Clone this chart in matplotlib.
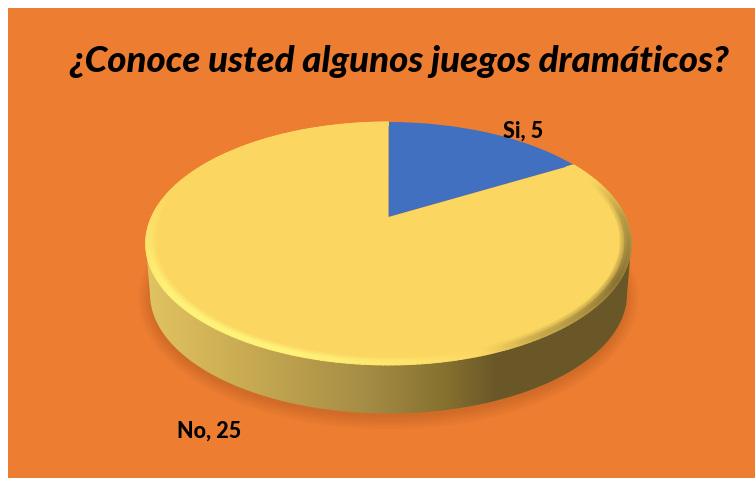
import numpy as np
import matplotlib
matplotlib.use('Agg')
import matplotlib.pyplot as plt
from matplotlib.colors import LinearSegmentedColormap
from matplotlib.patches import Ellipse, Rectangle, Polygon
from matplotlib.transforms import Transform

title = '¿Conoce usted algunos juegos dramáticos?'
categories = ['Si', 'No']
values = [5, 25]
colors = ['#4170C0', '#FBD660']

W, H = 755, 478
CX, CY = 388.5, 217      # where the pie's apex lands, in pixels
K, A, S = 0.218, 115.7, 237


def project(u, v):
    # unit disc -> pixels, the far side of the pie is squeezed
    d = 1 + K * v
    return CX + S * u / d, CY - A * v / d


class Persp(Transform):
    input_dims = 2
    output_dims = 2

    def transform_non_affine(self, xy):
        x, y = project(xy[:, 0], xy[:, 1])
        return np.column_stack([x, y])


fig = plt.figure(figsize=(W / 100, H / 100), dpi=100, facecolor='white')
ax = fig.add_axes([0, 0, 1, 1])

wedges, _ = ax.pie(values, colors=colors, startangle=90, counterclock=False)
ax.set_aspect('auto')
ax.axis('off')

ax.add_patch(Rectangle((8, 8), W - 8, H - 8, fc='#ED7D31', ec='none', zorder=0))

# soft shadow under the pie
for i in range(9):
    ax.add_patch(Ellipse((388.5, 298), 476 + 3.0 * i, 238 + 3.2 * i,
                         fc='#8a4a18', ec='none', alpha=0.03, zorder=1))

# side wall: horizontal gradient clipped to the lower rim
t = np.linspace(0, 2 * np.pi, 721)
top_x, top_y = project(np.cos(t), np.sin(t))
right = np.argmax(top_x)
left = np.argmin(top_x)
low = np.linspace(0, np.pi, 181)
mask = np.vstack([
    [top_x[right], top_y[right]],
    np.column_stack([388.5 + 238.5 * np.cos(low), 294 + 119.5 * np.sin(low)]),
    [top_x[left], top_y[left]],
])
side_cmap = LinearSegmentedColormap.from_list('side', [
    (0.00, '#E2C362'), (0.20, '#C9AB52'), (0.45, '#A68D45'),
    (0.62, '#85702F'), (0.72, '#6B5829'), (1.00, '#6A5728')])
img = ax.imshow(np.linspace(0, 1, 256)[None, :], cmap=side_cmap, aspect='auto',
                extent=(146, 631, 420, 120), zorder=2)
ax.set_xlim(0, W)
ax.set_ylim(H, 0)
img.set_clip_path(Polygon(mask, closed=True, transform=ax.transData))

for w in wedges:
    w.set_transform(Persp() + ax.transData)
    w.set_edgecolor('none')
    w.set_zorder(3)

# bevel along the yellow rim, only on the near side
ang = np.radians(np.linspace(30, -270, 301))
rad = np.array([0.955, 0.975, 0.99, 1.0])
tt, rr = np.meshgrid(ang, rad)
deg = np.degrees(tt) % 360
order = [0, 20, 90, 165, 190, 215, 250, 275, 300, 330, 360]
shade = [-0.5, 0, 0, 0, 0.45, 0.95, 1, 0.45, -0.35, -0.85, -0.5]
s = np.interp(deg, order, shade)
s = s * np.array([0, 0.8, 1, 0.85])[:, None]
bevel_cmap = LinearSegmentedColormap.from_list('bevel', [
    (0.0, '#6F5C2A'), (0.5, '#FBD660'), (1.0, '#FFF57C')])
px, py = project(rr * np.cos(tt), rr * np.sin(tt))
ax.pcolormesh(px, py, s, cmap=bevel_cmap, vmin=-1, vmax=1, shading='gouraud', zorder=4)
ax.set_xlim(0, W)
ax.set_ylim(H, 0)

ax.text(399, 72, title, fontsize=26.4, family='Lato', weight='black', style='italic',
        ha='center', va='baseline', color='black', zorder=6)
ax.text(523.5, 138, f'{categories[0]}, {values[0]}', fontsize=15.5, family='Lato', weight='black',
        ha='center', va='baseline', color='black', zorder=6)
ax.text(209.5, 438, f'{categories[1]}, {values[1]}', fontsize=15.5, family='Lato', weight='black',
        ha='center', va='baseline', color='black', zorder=6)

fig.savefig('out.png', dpi=100, facecolor='white')
